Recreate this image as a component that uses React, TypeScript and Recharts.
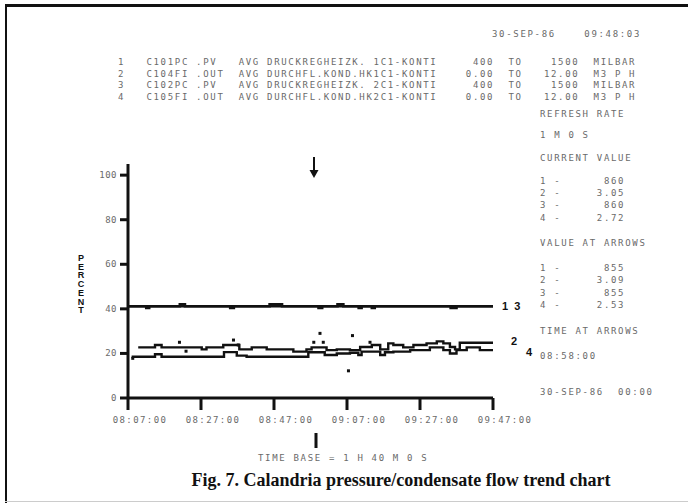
import React from "react";
import { ComposedChart, Line, Scatter, XAxis, YAxis } from "recharts";

// minutes after 08:07:00
const xTicks = [0, 20, 40, 60, 80, 100];
const yTicks = [0, 20, 40, 60, 80, 100];

const series1 = [
  [0, 41.2], [5, 40.4], [5.8, 41.2], [28, 40.4], [29, 41.2], [52.2, 40.4], [53.2, 41.2],
  [63.2, 40.4], [64, 41.2], [66.8, 40.4], [67.6, 41.2], [88.4, 40.4], [90, 41.2], [100, 41.2],
];
const series3 = [
  [0, 41.2], [14.2, 42], [15.6, 41.2], [38.8, 42], [42.2, 41.2], [57.4, 42], [59, 41.2], [100, 41.2],
];
const series2 = [
  [2.8, 22.7], [7.4, 23.8], [9.2, 22.7], [20.2, 21.8], [21.5, 22.7], [26.1, 23.8], [30.5, 21.8],
  [33.9, 22.7], [38, 21.8], [45.3, 20.8], [48.9, 21.8], [50.3, 22.7], [54.4, 21.5], [57.2, 21.8],
  [60.8, 21.5], [63.6, 22.9], [66.8, 23.8], [69.1, 21.8], [71.3, 24.5], [72.7, 23.8], [75.4, 22.7],
  [78.2, 23.8], [81.8, 24.5], [84.6, 25.4], [86.4, 24.5], [88.2, 22.9], [89.6, 21.8], [90.9, 24.8],
  [100, 24.8],
];
const series4 = [
  [1, 18.5], [7.4, 19.6], [9.2, 18.5], [26.3, 20.6], [29.8, 19], [32.5, 18.5], [49.4, 20.5],
  [53.9, 19.3], [57.2, 20], [60.8, 20.3], [63.1, 19.3], [64, 20.8], [69.1, 19.3], [70.4, 20.5],
  [72.7, 20.8], [77.3, 21.5], [82.7, 22.7], [86.4, 21.5], [88.2, 20], [90, 21.5], [92.8, 22.7],
  [96.4, 21.5], [100, 21.5],
];
const spikes = [
  [1.3, 17.8], [14.1, 25], [15.9, 21], [28.9, 26], [30.2, 23.8], [50.9, 25], [52.6, 29],
  [53.5, 25], [60.4, 12.2], [61.5, 28], [66.3, 25],
];

const legendRows = [
  "1   C101PC .PV   AVG DRUCKREGHEIZK. 1C1-KONTI     400  TO    1500  MILBAR",
  "2   C104FI .OUT  AVG DURCHFL.KOND.HK1C1-KONTI    0.00  TO   12.00  M3 P H",
  "3   C102PC .PV   AVG DRUCKREGHEIZK. 2C1-KONTI     400  TO    1500  MILBAR",
  "4   C105FI .OUT  AVG DURCHFL.KOND.HK2C1-KONTI    0.00  TO   12.00  M3 P H",
];
const currentValues = ["860", "3.05", "860", "2.72"];
const arrowValues = ["855", "3.09", "855", "2.53"];

const toPts = (arr: number[][]) => arr.map(([t, v]) => ({ t, v }));

const fmtTime = (m: number) => {
  const total = 8 * 60 + 7 + m;
  const h = Math.floor(total / 60);
  const mm = total % 60;
  return `${String(h).padStart(2, "0")}:${String(mm).padStart(2, "0")}:00`;
};

const mono: React.CSSProperties = {
  fontFamily: "'DejaVu Sans Mono', monospace",
  fontSize: 9,
  letterSpacing: 1.68,
  color: "#6a6a6a",
  whiteSpace: "pre",
  lineHeight: "10px",
  position: "absolute",
};

const T = ({ x, y, children }: { x: number; y: number; children: React.ReactNode }) => (
  <div style={{ ...mono, left: x, top: y - 5 }}>{children}</div>
);

const XTick = (props: any) => {
  const { x, y, payload } = props;
  return (
    <text x={x + 12} y={y} dy={8} textAnchor="middle" fill="#6a6a6a"
      style={{ fontFamily: "'DejaVu Sans Mono', monospace", fontSize: 9, letterSpacing: 1.4 }}>
      {fmtTime(payload.value)}
    </text>
  );
};

const YTick = (props: any) => {
  const { x, y, payload } = props;
  return (
    <text x={x} y={y} dy={3} textAnchor="end" fill="#6a6a6a"
      style={{ fontFamily: "'DejaVu Sans Mono', monospace", fontSize: 9, letterSpacing: 0.5 }}>
      {payload.value}
    </text>
  );
};

const Dot = (props: any) => <rect x={props.cx - 1.5} y={props.cy - 1.5} width={3} height={3} fill="#111" />;

const bold: React.CSSProperties = {
  position: "absolute",
  fontFamily: "'Liberation Sans', sans-serif",
  fontWeight: 700,
  fontSize: 11,
  color: "#111",
  whiteSpace: "pre",
  lineHeight: "12px",
};

export default function App() {
  const rightX = 540;
  return (
    <div style={{ position: "absolute", left: 0, top: 0, width: 688, height: 503, background: "#fff", overflow: "hidden" }}>
      {/* frame */}
      <div style={{ position: "absolute", left: 5, top: 4, right: 0, height: 3, background: "#111" }} />
      <div style={{ position: "absolute", left: 5, top: 4, bottom: 0, width: 2, background: "#111" }} />
      <div style={{ position: "absolute", left: 5, bottom: 1, right: 0, height: 1, background: "#ccc" }} />

      <ComposedChart width={688} height={503} margin={{ top: 164, right: 195, bottom: 75, left: 88 }}>
        <XAxis
          dataKey="t"
          type="number"
          domain={[0, 100]}
          ticks={xTicks}
          height={30}
          axisLine={{ stroke: "#111", strokeWidth: 3 }}
          tickLine={{ stroke: "#111", strokeWidth: 3 }}
          tickSize={12}
          tickMargin={5}
          tick={<XTick />}
          interval={0}
        />
        <YAxis
          type="number"
          domain={[0, 105]}
          ticks={yTicks}
          width={40}
          axisLine={{ stroke: "#111", strokeWidth: 3 }}
          tickLine={{ stroke: "#111", strokeWidth: 3 }}
          tickSize={8}
          tickMargin={3}
          tick={<YTick />}
          interval={0}
        />
        <Line data={toPts(series3)} dataKey="v" type="stepAfter" stroke="#111" strokeWidth={2.6} dot={false} isAnimationActive={false} />
        <Line data={toPts(series1)} dataKey="v" type="stepAfter" stroke="#111" strokeWidth={2.6} dot={false} isAnimationActive={false} />
        <Line data={toPts(series2)} dataKey="v" type="stepAfter" stroke="#111" strokeWidth={2.4} dot={false} isAnimationActive={false} />
        <Line data={toPts(series4)} dataKey="v" type="stepAfter" stroke="#111" strokeWidth={2.4} dot={false} isAnimationActive={false} />
        <Scatter data={toPts(spikes)} dataKey="v" shape={<Dot />} isAnimationActive={false} />
      </ComposedChart>

      {/* arrows */}
      <svg style={{ position: "absolute", left: 0, top: 0 }} width={688} height={503}>
        <line x1={314} y1={157} x2={314} y2={172} stroke="#111" strokeWidth={2} />
        <polygon points="309.5,170 318.5,170 314,178" fill="#111" />
        <rect x={314.5} y={433} width={3} height={15} fill="#111" />
      </svg>

      {/* header */}
      <T x={492} y={34}>30-SEP-86    09:48:03</T>
      {legendRows.map((r, i) => (
        <T key={i} x={118} y={62 + i * 11.7}>{r}</T>
      ))}

      {/* right panel */}
      <T x={rightX} y={114}>REFRESH RATE</T>
      <T x={rightX} y={135}>1 M 0 S</T>
      <T x={rightX} y={158}>CURRENT VALUE</T>
      {currentValues.map((v, i) => (
        <T key={i} x={rightX} y={181 + i * 12.2}>{`${i + 1} -  ${v.padStart(7, " ")}`}</T>
      ))}
      <T x={rightX} y={243}>VALUE AT ARROWS</T>
      {arrowValues.map((v, i) => (
        <T key={i} x={rightX} y={268 + i * 12.3}>{`${i + 1} -  ${v.padStart(7, " ")}`}</T>
      ))}
      <T x={rightX} y={331}>TIME AT ARROWS</T>
      <T x={rightX} y={356}>08:58:00</T>
      <T x={rightX} y={392}>30-SEP-86  00:00</T>

      {/* series labels */}
      <div style={{ ...bold, left: 502, top: 300 }}>1  3</div>
      <div style={{ ...bold, left: 511, top: 335 }}>2</div>
      <div style={{ ...bold, left: 526, top: 346 }}>4</div>

      {/* y axis title */}
      <div
        style={{
          ...bold,
          left: 76,
          top: 253,
          fontSize: 9,
          writingMode: "vertical-rl",
          textOrientation: "upright",
          letterSpacing: -1.3,
          lineHeight: "10px",
        }}
      >
        PERCENT
      </div>

      <T x={258} y={458}>TIME BASE = 1 H 40 M 0 S</T>

      <div
        style={{
          position: "absolute",
          left: 101,
          width: 600,
          top: 470,
          textAlign: "center",
          fontFamily: "'Liberation Serif', serif",
          fontWeight: 700,
          fontSize: 18,
          color: "#111",
        }}
      >
        Fig. 7. Calandria pressure/condensate flow trend chart
      </div>
    </div>
  );
}
